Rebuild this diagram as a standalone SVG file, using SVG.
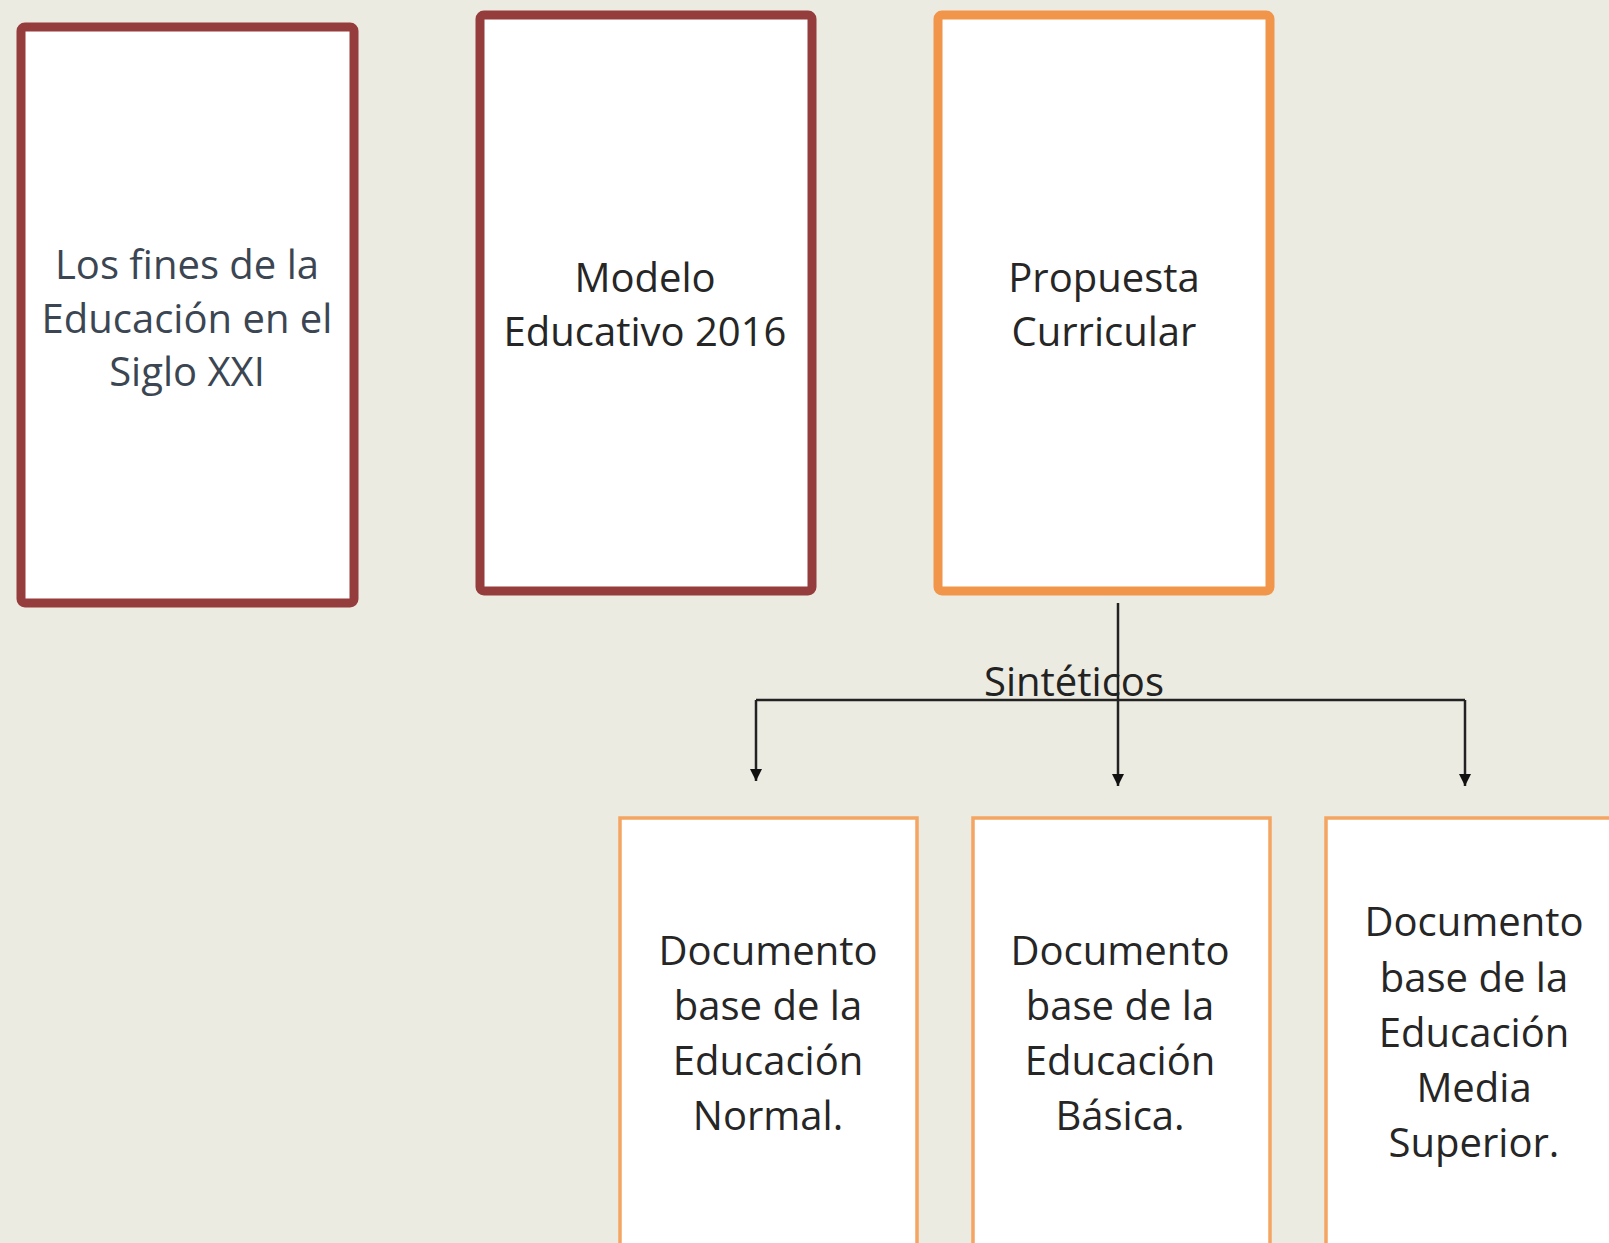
<svg xmlns="http://www.w3.org/2000/svg" width="1609" height="1243" viewBox="0 0 1609 1243">
<style>
.bg{fill:#ecebe1}
.top-red{fill:#ffffff;stroke:#953c3c;stroke-width:9}
.top-org{fill:#ffffff;stroke:#f1954a;stroke-width:9}
.bot{fill:#ffffff;stroke:#f3a561;stroke-width:3.5}
.t{font-family:"Open Sans","Noto Sans","Liberation Sans",sans-serif;font-size:40px;text-anchor:middle;fill:#262626}
.t1{fill:#3b4652}
.conn{fill:none;stroke:#222;stroke-width:2.5}
</style>
<defs>
<marker id="arr" markerWidth="12" markerHeight="12" refX="12" refY="6" orient="auto" markerUnits="userSpaceOnUse" viewBox="0 0 12 12">
<path d="M0,0 L12,6 L0,12 Z" fill="#111"/>
</marker>
</defs>
<rect class="bg" x="0" y="0" width="1609" height="1243"/>
<g id="node-fines">
<rect class="top-red" x="21" y="27" width="333" height="576" rx="4"/>
<text class="t t1" x="187" y="279">Los fines de la</text>
<text class="t t1" x="187" y="333">Educación en el</text>
<text class="t t1" x="187" y="386">Siglo XXI</text>
</g>
<g id="node-modelo">
<rect class="top-red" x="480" y="15" width="332" height="576" rx="4"/>
<text class="t" x="645" y="292">Modelo</text>
<text class="t" x="645" y="346">Educativo 2016</text>
</g>
<g id="node-propuesta">
<rect class="top-org" x="938" y="15" width="332" height="576" rx="4"/>
<text class="t" x="1104" y="292">Propuesta</text>
<text class="t" x="1104" y="346">Curricular</text>
</g>
<g id="connectors">
<path class="conn" d="M1118,603 V786" marker-end="url(#arr)"/>
<path class="conn" d="M756,700 H1465"/>
<path class="conn" d="M756,700 V781" marker-end="url(#arr)"/>
<path class="conn" d="M1465,700 V786" marker-end="url(#arr)"/>
<text class="t" x="1074" y="696" style="fill:#222">Sintéticos</text>
</g>
<g id="node-normal">
<rect class="bot" x="620" y="818" width="297" height="440"/>
<text class="t" x="768" y="965">Documento</text>
<text class="t" x="768" y="1020">base de la</text>
<text class="t" x="768" y="1075">Educación</text>
<text class="t" x="768" y="1130">Normal.</text>
</g>
<g id="node-basica">
<rect class="bot" x="973" y="818" width="297" height="440"/>
<text class="t" x="1120" y="965">Documento</text>
<text class="t" x="1120" y="1020">base de la</text>
<text class="t" x="1120" y="1075">Educación</text>
<text class="t" x="1120" y="1130">Básica.</text>
</g>
<g id="node-media">
<rect class="bot" x="1326" y="818" width="297" height="440"/>
<text class="t" x="1474" y="936">Documento</text>
<text class="t" x="1474" y="992">base de la</text>
<text class="t" x="1474" y="1047">Educación</text>
<text class="t" x="1474" y="1102">Media</text>
<text class="t" x="1474" y="1157">Superior.</text>
</g>
</svg>
